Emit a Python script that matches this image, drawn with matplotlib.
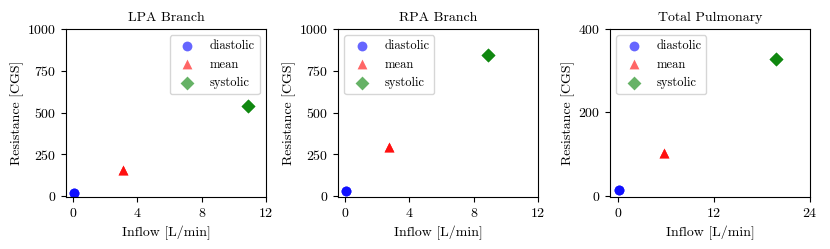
import numpy as np
import matplotlib
matplotlib.use("Agg")
import matplotlib.pyplot as plt

plt.rcParams["font.family"] = "serif"
plt.rcParams["font.serif"] = ["cmr10", "DejaVu Serif"]
plt.rcParams["mathtext.fontset"] = "cm"
plt.rcParams["axes.formatter.use_mathtext"] = True
plt.rcParams["font.size"] = 10

# ----------------------------------------------------
# Data (inflow [L/min], resistance [CGS])
# ----------------------------------------------------
titles = ["LPA Branch", "RPA Branch", "Total Pulmonary"]
phases = ["diastolic", "mean", "systolic"]

lpa_flow = [0.05, 3.1, 10.9]
lpa_res = [20, 155, 537]

rpa_flow = [0.05, 2.7, 8.9]
rpa_res = [32, 295, 843]

tot_flow = [0.1, 5.8, 19.8]
tot_res = [13, 103, 328]

xticks = [[0, 4, 8, 12], [0, 4, 8, 12], [0, 12, 24]]
yticks = [[0, 250, 500, 750, 1000], [0, 250, 500, 750, 1000], [0, 200, 400]]
xlims = [(-0.45, 12), (-0.45, 12), (-1.0, 24)]
ylims = [(-4, 1000), (-4, 1000), (-3, 400)]
legend_locs = ["upper right", "upper left", "upper left"]

colors = ["blue", "red", "green"]
markers = ["o", "^", "D"]

flows = [lpa_flow, rpa_flow, tot_flow]
resists = [lpa_res, rpa_res, tot_res]

# ----------------------------------------------------
# Plot
# ----------------------------------------------------
fig = plt.figure(figsize=(8.3, 2.49), dpi=100)
lefts = [66, 338, 610]
for i in range(3):
    ax = fig.add_axes([lefts[i] / 830, 52 / 249, 200 / 830, 168 / 249])
    for j in range(3):
        # stacked samples give the darker marker look
        for k in range(3):
            ax.scatter(flows[i][j], resists[i][j], c=colors[j], marker=markers[j],
                       alpha=0.6, s=50, linewidths=0,
                       label=phases[j] if k == 0 else None)
    ax.set_title(titles[i], fontsize=10)
    ax.set_xlabel("Inflow [L/min]")
    ax.set_ylabel("Resistance [CGS]", labelpad=2)
    ax.set_xticks(xticks[i])
    ax.set_yticks(yticks[i])
    ax.set_xlim(xlims[i])
    ax.set_ylim(ylims[i])
    ax.legend(loc=legend_locs[i], fontsize=9)

plt.savefig("out.png", dpi=100)
plt.close()
